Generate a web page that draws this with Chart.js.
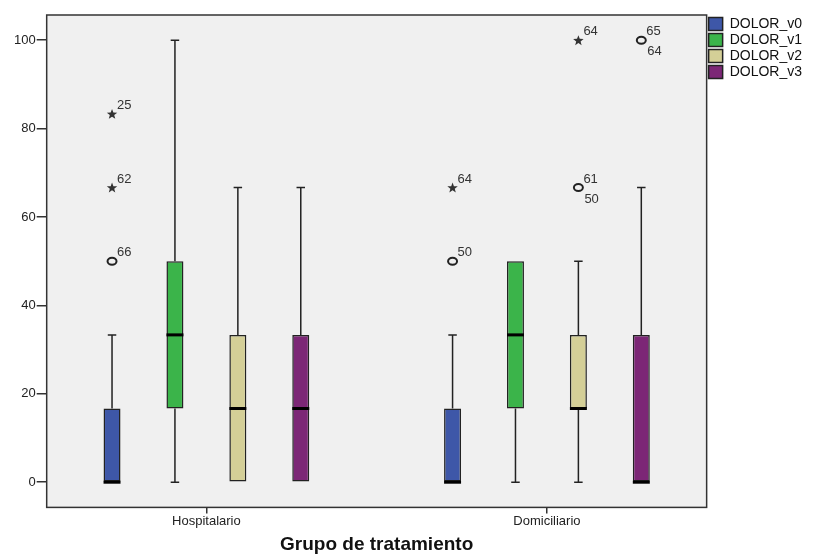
<!DOCTYPE html>
<html>
<head>
<meta charset="utf-8">
<script src="https://cdn.jsdelivr.net/npm/chart.js@4/dist/chart.umd.min.js"></script>
<style>
  html, body { margin: 0; padding: 0; background: #fff; }
</style>
</head>
<body>
<canvas id="boxChart" width="814" height="554"></canvas>
<script>
// Categories and series
const groups = ['Hospitalario', 'Domiciliario'];
const seriesNames = ['DOLOR_v0', 'DOLOR_v1', 'DOLOR_v2', 'DOLOR_v3'];
const seriesColors = ['#3E57A8', '#3BB44A', '#D4CF97', '#7C2776'];

// Box plot statistics, one row per series: [Hospitalario, Domiciliario]
const lowWhisker  = [[0, 0], [0, 0], [0, 0], [0, 0]];
const q1          = [[0, 0], [16.67, 16.67], [0, 16.67], [0, 0]];
const medians     = [[0, 0], [33.33, 33.33], [16.67, 16.67], [16.67, 0]];
const q3          = [[16.67, 16.67], [50, 50], [33.33, 33.33], [33.33, 33.33]];
const highWhisker = [[33.33, 33.33], [100, 50], [66.67, 50], [66.67, 66.67]];

// Outliers: [group, series, value, symbol, label above, label below]
const outliers = [
    [0, 0, 50, 'o', '66', ''],
    [0, 0, 66.67, '*', '62', ''],
    [0, 0, 83.33, '*', '25', ''],
    [1, 0, 50, 'o', '50', ''],
    [1, 0, 66.67, '*', '64', ''],
    [1, 2, 66.67, 'o', '61', '50'],
    [1, 2, 100, '*', '64', ''],
    [1, 3, 100, 'o', '65', '64']
];

const yTicks = [0, 20, 40, 60, 80, 100];

const FONT = '"Liberation Sans", Arial, sans-serif';
const INK = '#222';

// draws background, whiskers, medians, outliers and the frame
const boxExtras = {
    id: 'boxExtras',
    beforeDraw(chart) {
        const a = chart.chartArea, ctx = chart.ctx;
        ctx.save();
        ctx.fillStyle = '#F0F0F0';
        ctx.fillRect(a.left, a.top, a.right - a.left, a.bottom - a.top);
        ctx.restore();
    },
    afterDatasetsDraw(chart) {
        const ctx = chart.ctx, y = chart.scales.y, a = chart.chartArea;
        ctx.save();
        ctx.strokeStyle = INK;
        chart.data.datasets.forEach((ds, s) => {
            const meta = chart.getDatasetMeta(s);
            meta.data.forEach((bar, g) => {
                const x = bar.x, half = bar.width / 2, cap = bar.width / 4;
                ctx.lineWidth = 1.5;
                const seg = (from, to) => {
                    if (from === to) return;
                    const y0 = y.getPixelForValue(from), y1 = y.getPixelForValue(to);
                    ctx.beginPath();
                    ctx.moveTo(x, y0); ctx.lineTo(x, y1);
                    ctx.moveTo(x - cap, y1); ctx.lineTo(x + cap, y1);
                    ctx.stroke();
                };
                seg(q3[s][g], highWhisker[s][g]);
                seg(q1[s][g], lowWhisker[s][g]);
                // median
                const ym = y.getPixelForValue(medians[s][g]);
                ctx.lineWidth = 3;
                ctx.strokeStyle = '#000';
                ctx.beginPath();
                ctx.moveTo(x - half, ym); ctx.lineTo(x + half, ym);
                ctx.stroke();
                ctx.strokeStyle = INK;
            });
        });

        // outliers
        ctx.font = '13px ' + FONT;
        ctx.fillStyle = '#333';
        outliers.forEach(([g, s, v, sym, above, below]) => {
            const bar = chart.getDatasetMeta(s).data[g];
            const x = bar.x, py = y.getPixelForValue(v);
            if (sym === 'o') {
                ctx.lineWidth = 2;
                ctx.beginPath();
                ctx.ellipse(x, py, 4.5, 3.5, 0, 0, Math.PI * 2);
                ctx.stroke();
            } else {
                ctx.beginPath();
                for (let i = 0; i < 10; i++) {
                    const r = i % 2 === 0 ? 5.5 : 2.3;
                    const ang = -Math.PI / 2 + i * Math.PI / 5;
                    const px = x + r * Math.cos(ang), pyy = py + 0.5 + r * Math.sin(ang);
                    if (i === 0) ctx.moveTo(px, pyy); else ctx.lineTo(px, pyy);
                }
                ctx.closePath();
                ctx.fill();
            }
            ctx.textAlign = 'left';
            if (above) { ctx.textBaseline = 'alphabetic'; ctx.fillText(above, x + 5, py - 5); }
            if (below) { ctx.textBaseline = 'top'; ctx.fillText(below, x + 6, py + 5); }
        });

        // frame
        ctx.lineWidth = 1.5;
        ctx.strokeStyle = '#333';
        ctx.strokeRect(a.left, a.top, a.right - a.left, a.bottom - a.top);
        ctx.restore();
    }
};

const datasets = seriesNames.map((name, s) => ({
    label: name,
    data: groups.map((_, g) => ({ x: g, y: [q1[s][g], q3[s][g]] })),
    backgroundColor: seriesColors[s],
    borderColor: INK,
    borderWidth: 1.5,
    borderSkipped: false,
    categoryPercentage: 0.739,
    barPercentage: 0.27
}));

new Chart(document.getElementById('boxChart').getContext('2d'), {
    type: 'bar',
    data: { datasets: datasets },
    plugins: [boxExtras],
    options: {
        responsive: false,
        animation: false,
        devicePixelRatio: 1,
        layout: { padding: { left: 13, top: 15, right: 2, bottom: 0 } },
        plugins: {
            tooltip: { enabled: false },
            legend: {
                position: 'right',
                align: 'start',
                labels: {
                    boxWidth: 14,
                    boxHeight: 13,
                    padding: 2,
                    color: '#111',
                    font: { size: 14, family: FONT, lineHeight: 1 }
                }
            }
        },
        scales: {
            x: {
                type: 'linear',
                min: -0.469,
                max: 1.469,
                offset: false,
                border: { display: false },
                grid: { display: true, offset: false, drawOnChartArea: false, drawTicks: true, tickLength: 6, color: '#333', lineWidth: 1.5 },
                afterBuildTicks: (scale) => { scale.ticks = groups.map((_, i) => ({ value: i })); },
                ticks: { color: INK, padding: 0, font: { size: 13, family: FONT }, callback: (v) => groups[v] },
                title: {
                    display: true,
                    text: 'Grupo de tratamiento',
                    color: '#111',
                    padding: { top: 6, bottom: 0 },
                    font: { size: 19, weight: 'bold', family: FONT, lineHeight: 1 }
                }
            },
            y: {
                min: -5.7,
                max: 105.7,
                border: { display: false },
                grid: { display: true, drawOnChartArea: false, drawTicks: true, tickLength: 10, color: '#333', lineWidth: 1.5 },
                afterBuildTicks: (scale) => { scale.ticks = yTicks.map(v => ({ value: v })); },
                ticks: { color: INK, padding: 1, font: { size: 13, family: FONT } }
            }
        }
    }
});
</script>
</body>
</html>
